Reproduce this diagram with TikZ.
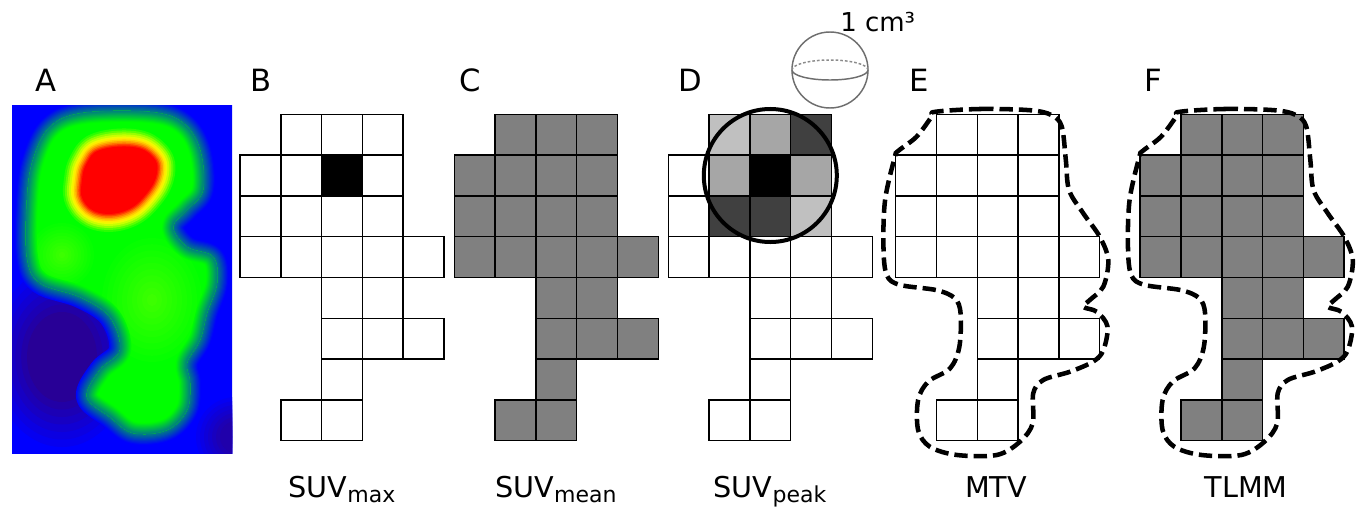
\documentclass[tikz,border=0pt]{standalone}
\usepackage{fontspec}
\setmainfont{DejaVu Sans}
\definecolor{hmblue}{RGB}{0,0,255}
\definecolor{hmdark}{RGB}{40,0,150}
\definecolor{hmgreen}{RGB}{0,255,0}
\definecolor{hmlime}{RGB}{150,255,0}
\definecolor{voxgray}{RGB}{128,128,128}
\definecolor{pklight}{RGB}{192,192,192}
\definecolor{pkmid}{RGB}{166,166,166}
\definecolor{pkdark}{RGB}{64,64,64}
\definecolor{spheregray}{RGB}{110,110,110}
% warm ramp around the hottest spot (outermost first)
\definecolor{ra}{RGB}{40,255,0}
\definecolor{rb}{RGB}{90,255,0}
\definecolor{rc}{RGB}{150,255,0}
\definecolor{rd}{RGB}{200,255,0}
\definecolor{re}{RGB}{240,250,0}
\definecolor{rf}{RGB}{255,235,0}
\definecolor{rg}{RGB}{255,205,0}
\definecolor{rh}{RGB}{255,165,0}
\definecolor{ri}{RGB}{255,120,0}
\definecolor{rj}{RGB}{255,70,0}
\definecolor{rk}{RGB}{255,30,0}
% voxels of the lesion mask (column/row)
\newcommand\tumourcells{1/0,2/0,3/0,0/1,1/1,2/1,3/1,0/2,1/2,2/2,3/2,0/3,1/3,2/3,3/3,4/3,2/4,3/4,2/5,3/5,4/5,2/6,1/7,2/7}
% delineated contour, in voxel units
\newcommand\roioutline{plot[smooth cycle, tension=0.55] coordinates {
 (0.96,-0.06) (2.07,-0.13) (3.29,-0.1) (3.82,0.02) (4.07,0.3) (4.17,1.12) (4.25,1.86)
 (4.6,2.43) (5.0,3.0) (5.21,3.57) (5.09,4.22) (4.76,4.55) (4.6,4.72) (4.93,4.84)
 (5.19,5.2) (5.09,5.78) (4.84,6.06) (4.27,6.31) (3.62,6.51) (3.37,6.84) (3.36,7.57)
 (3.05,8.02) (2.48,8.35) (1.5,8.35) (0.84,8.15) (0.55,7.74) (0.55,7.0) (0.8,6.55)
 (1.33,6.23) (1.56,5.7) (1.59,4.88) (1.45,4.51) (1.0,4.31) (0.1,4.18) (-0.22,3.94)
 (-0.3,3.25) (-0.26,2.1) (-0.02,1.04) (0.06,0.9) (0.51,0.55) (0.88,0.06)}}
% uptake regions of the PET slice, in pixels
\newcommand\greenshape{plot[smooth cycle, tension=0.6] coordinates {
 (21,55) (38,22) (71,8) (138,7) (171,18) (188,45) (191,85) (175,105) (161,122)
 (175,142) (201,152) (205,178) (195,208) (188,235) (175,258) (178,278) (175,305)
 (155,325) (121,328) (98,312) (75,292) (88,265) (108,245) (98,212) (68,192)
 (28,178) (15,152) (15,95)}}
\newcommand\hotshape{plot[smooth cycle, tension=0.7] coordinates {
 (88,45) (121,42) (141,52) (145,68) (135,88) (115,105) (88,108) (71,95) (70,75) (75,58)}}
\newcommand\subtxt[1]{\raisebox{-3.75pt}{\fontsize{16.5}{18}\selectfont #1}}
\begin{document}
\begin{tikzpicture}[x=0.75pt,y=-0.75pt,
  cellbox/.style={draw=black, line width=1.1pt},
  panellabel/.style={anchor=base, inner sep=0pt, font=\fontsize{23}{26}\selectfont},
  measure/.style={anchor=base, inner sep=0pt, font=\fontsize{21.5}{24}\selectfont},
  roi/.style={draw=black, line width=3.4pt, dash pattern=on 10pt off 4.5pt, line join=round},
  spherestyle/.style={draw=spheregray, line width=1.1pt},
]
\useasboundingbox (0,0) rectangle (1361,514);

% ---- A: PET slice ----
\begin{scope}[shift={(12,105)}]
  \clip (0,0) rectangle (220,348);
  \fill[hmblue] (-10,-10) rectangle (230,358);
  % cold pockets
  \foreach \i in {0,...,11}{
    \pgfmathsetmacro\sc{1-\i/12}
    \pgfmathtruncatemacro\pc{min(100,(\i+1)*100/7)}
    \fill[hmdark!\pc!hmblue] (50,252) ellipse [x radius=70*\sc, y radius=90*\sc];
  }
  \foreach \i in {0,...,9}{
    \pgfmathsetmacro\sc{1-\i/10}
    \pgfmathtruncatemacro\pc{min(80,(\i+1)*12)}
    \fill[hmdark!\pc!hmblue] (224,332) ellipse [x radius=40*\sc, y radius=40*\sc];
  }
  % soft rim of the uptake region, outer half
  \foreach \i in {0,...,9}{
    \pgfmathsetmacro\wd{2*11*(1-\i/10)*0.75}
    \pgfmathtruncatemacro\pc{(\i+0.5)*5}
    \draw[line width=\wd pt, draw=hmgreen!\pc!hmblue, line join=round] \greenshape;
  }
  \fill[hmgreen] \greenshape;
  \begin{scope}
    \clip \greenshape;
    % brighter patches
    \foreach \i in {0,...,9}{
      \pgfmathsetmacro\sc{1-\i/10}
      \pgfmathtruncatemacro\pc{(\i+1)*4}
      \fill[hmlime!\pc!hmgreen] (140,195) ellipse [x radius=50*\sc, y radius=62*\sc];
      \fill[hmlime!\pc!hmgreen] (50,150) ellipse [x radius=32*\sc, y radius=32*\sc];
    }
    % soft rim, inner half
    \foreach \i in {0,...,9}{
      \pgfmathsetmacro\wd{2*11*(1-\i/10)*0.75}
      \pgfmathtruncatemacro\pc{100-(\i+0.5)*5}
      \draw[line width=\wd pt, draw=hmgreen!\pc!hmblue, line join=round] \greenshape;
    }
  \end{scope}
  \foreach \d/\col in {18/ra,16/rb,14/rc,12/rd,10/re,8.5/rf,7/rg,5.5/rh,4/ri,2.5/rj,1.2/rk}{
    \draw[line width=2*\d*0.75pt, draw=\col, line join=round] \hotshape;
  }
  \fill[red] \hotshape;
\end{scope}

% ---- B: SUVmax ----
\begin{scope}[shift={(240,114.3)}, x=30.6pt, y=-30.6pt]
  \fill[black] (2,1) rectangle (3,2);
  \foreach \c/\r in \tumourcells \draw[cellbox] (\c,\r) rectangle ++(1,1);
\end{scope}

% ---- C: SUVmean ----
\begin{scope}[shift={(454.3,114.3)}, x=30.6pt, y=-30.6pt]
  \foreach \c/\r in \tumourcells \filldraw[cellbox, fill=voxgray] (\c,\r) rectangle ++(1,1);
\end{scope}

% ---- D: SUVpeak ----
\begin{scope}[shift={(668.3,114.3)}, x=30.6pt, y=-30.6pt]
  \fill[pklight] (1,0) rectangle ++(1,1);
  \fill[pkmid]   (2,0) rectangle ++(1,1);
  \fill[pkdark]  (3,0) rectangle ++(1,1);
  \fill[pkmid]   (1,1) rectangle ++(1,1);
  \fill[black]   (2,1) rectangle ++(1,1);
  \fill[pkmid]   (3,1) rectangle ++(1,1);
  \fill[pkdark]  (1,2) rectangle ++(1,1);
  \fill[pkdark]  (2,2) rectangle ++(1,1);
  \fill[pklight] (3,2) rectangle ++(1,1);
  \foreach \c/\r in \tumourcells \draw[cellbox] (\c,\r) rectangle ++(1,1);
  \draw[line width=3pt] (2.5,1.5) circle [radius=1.63];
\end{scope}

% 1 cm^3 sphere
\draw[spherestyle] (830,70) circle [radius=38];
\draw[spherestyle] (868,70) arc [start angle=0, end angle=180, x radius=38, y radius=10];
\draw[spherestyle, draw=spheregray!80, dash pattern=on 2pt off 1.5pt] (868,70) arc [start angle=0, end angle=-180, x radius=38, y radius=10];
\node[anchor=base west, inner sep=0pt, font=\fontsize{19.5}{22}\selectfont] (unitlbl) at (840,31.7) {1 cm³};

% ---- E: MTV ----
\begin{scope}[shift={(895.7,114.3)}, x=30.6pt, y=-30.6pt]
  \foreach \c/\r in \tumourcells \draw[cellbox] (\c,\r) rectangle ++(1,1);
  \draw[roi] \roioutline;
\end{scope}

% ---- F: TLMM ----
\begin{scope}[shift={(1140.2,114.3)}, x=30.6pt, y=-30.6pt]
  \foreach \c/\r in \tumourcells \filldraw[cellbox, fill=voxgray] (\c,\r) rectangle ++(1,1);
  \draw[roi] \roioutline;
\end{scope}

% panel letters
\node[panellabel] (lblA) at (46,91.5) {A};
\node[panellabel] (lblB) at (261,91.5) {B};
\node[panellabel] (lblC) at (470,91.5) {C};
\node[panellabel] (lblD) at (690,91.5) {D};
\node[panellabel] (lblE) at (919,91.5) {E};
\node[panellabel] (lblF) at (1153,91.5) {F};

% metric names
\node[measure] (nmax)  at (342,497) {SUV\subtxt{max}};
\node[measure] (nmean) at (556,497) {SUV\subtxt{mean}};
\node[measure] (npeak) at (770,497) {SUV\subtxt{peak}};
\node[measure] (nmtv)  at (996,497) {MTV};
\node[measure] (ntlmm) at (1246,497) {TLMM};
\end{tikzpicture}
\end{document}
